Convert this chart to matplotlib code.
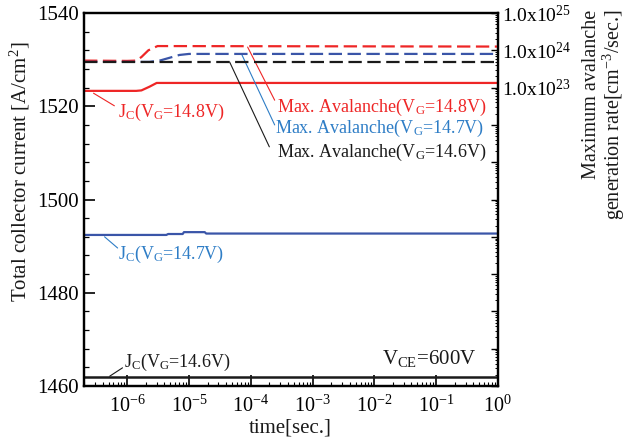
import numpy as np
import matplotlib
matplotlib.use("Agg")
import matplotlib.pyplot as plt
from matplotlib.ticker import FixedLocator, LogLocator, NullFormatter, FuncFormatter, MultipleLocator

plt.rcParams["font.family"] = ["Liberation Serif", "DejaVu Serif"]
plt.rcParams["mathtext.fontset"] = "custom"
plt.rcParams["mathtext.rm"] = "Liberation Serif"
plt.rcParams["mathtext.it"] = "Liberation Serif:italic"

# 集電極電流 (A/cm2)
t_jc148 = [2e-7, 1.4e-6, 1.7e-6, 2.3e-6, 3.0e-6, 1.0]
jc148 = [1523.3, 1523.3, 1523.4, 1524.2, 1525.0, 1525.0]

t_jc147 = [2e-7, 4.3e-6, 4.6e-6, 7.9e-6, 8.3e-6, 1.8e-5, 1.9e-5, 1.0]
jc147 = [1492.4, 1492.4, 1492.6, 1492.6, 1493.0, 1493.0, 1492.7, 1492.7]

t_jc146 = [2e-7, 1.0]
jc146 = [1462.0, 1462.0]

# 最大累增產生率 (cm-3/s)
t_av148 = [2e-7, 1.0e-6, 1.4e-6, 1.7e-6, 2.2e-6, 3.1e-6, 1.0]
av148 = [5.3e23, 5.2e23, 5.3e23, 6.6e23, 1.0e24, 1.3e24, 1.26e24]

t_av147 = [2e-7, 2.3e-6, 3.5e-6, 7.0e-6, 1.0e-5, 1.0]
av147 = [4.9e23, 4.9e23, 5.4e23, 7.5e23, 8.0e23, 8.0e23]

t_av146 = [2e-7, 1.0]
av146 = [4.9e23, 4.9e23]

red = "#ee2626"
blue_line = "#3a55a8"
blue_txt = "#2e7dc6"
black = "#1a1a1a"

fig = plt.figure(figsize=(6.27, 4.38), dpi=100)
ax = fig.add_axes([0.134, 0.1187, 0.660, 0.8516])
ax2 = ax.twinx()

# 左軸：電流
ax.plot(t_jc148, jc148, color=red, lw=1.6)
ax.plot(t_jc147, jc147, color=blue_line, lw=1.6)
ax.plot(t_jc146, jc146, color=black, lw=1.8)

ax.set_xscale("log")
ax.set_xlim(2e-7, 1.0)
ax.set_ylim(1460, 1540)
ax.yaxis.set_major_locator(MultipleLocator(20))
ax.yaxis.set_minor_locator(MultipleLocator(4))
ax.xaxis.set_major_locator(FixedLocator([1e-6, 1e-5, 1e-4, 1e-3, 1e-2, 1e-1, 1e0]))
ax.xaxis.set_minor_locator(LogLocator(base=10, subs=np.arange(2, 10), numticks=20))
ax.xaxis.set_minor_formatter(NullFormatter())
ax.xaxis.set_major_formatter(FuncFormatter(lambda v, p: r"10$^{%d}$" % round(np.log10(v))))

ax.tick_params(axis="both", which="major", direction="in", length=8, width=1.2, labelsize=15)
ax.tick_params(axis="y", which="minor", direction="in", length=3.5, width=0.9)
ax.tick_params(axis="x", which="minor", direction="in", length=2.8, width=0.8)
ax.tick_params(axis="x", which="major", pad=7, labelsize=14.5)
ax.tick_params(axis="y", which="major", pad=4)

# 右軸：累增產生率 (log)
ax2.plot(t_av148, av148, color=red, lw=1.6, dashes=(6, 2.5))
ax2.plot(t_av147, av147, color=blue_line, lw=1.6, dashes=(6, 2.5))
ax2.plot(t_av146, av146, color=black, lw=1.6, dashes=(6, 2.5))
ax2.set_yscale("log")
ax2.set_ylim(1e15, 1e25)
ax2.yaxis.set_major_locator(FixedLocator([10.0 ** k for k in range(15, 26)]))
ax2.yaxis.set_major_formatter(FuncFormatter(
    lambda v, p: r"1.0x10$^{%d}$" % round(np.log10(v)) if v >= 1e23 * 0.99 else ""))
ax2.yaxis.set_minor_locator(LogLocator(base=10, subs=np.arange(2, 10), numticks=20))
ax2.yaxis.set_minor_formatter(NullFormatter())
ax2.tick_params(axis="y", which="major", direction="in", length=5, width=1.0, labelsize=14, pad=3)
ax2.tick_params(axis="y", which="minor", direction="in", length=2.5, width=0.7)

for a in (ax, ax2):
    for s in a.spines.values():
        s.set_linewidth(1.6)

# 標註
def note(txt, xy, xytext, tpos, color, line_color=None):
    ax.annotate("", xy=xy, xytext=xytext,
                arrowprops=dict(arrowstyle="-", color=line_color or color, lw=0.8,
                                shrinkA=0, shrinkB=0))
    ax.text(tpos[0], tpos[1], txt, color=color, fontsize=13, ha="left", va="baseline")

note(r"J$_\mathrm{C}$(V$_\mathrm{G}$=14.8V)", (2.85e-7, 1522.8), (6.2e-7, 1520.1), (7.0e-7, 1517.7), red)
note(r"Max. Avalanche(V$_\mathrm{G}$=14.8V)", (8.9e-5, 1532.7), (2.44e-4, 1521.3), (2.64e-4, 1518.8), red)
note(r"Max. Avalanche(V$_\mathrm{G}$=14.7V)", (7.1e-5, 1531.2), (2.44e-4, 1516.0), (2.44e-4, 1514.3), blue_txt)
note(r"Max. Avalanche(V$_\mathrm{G}$=14.6V)", (4.55e-5, 1529.5), (2.0e-4, 1511.3), (2.64e-4, 1509.1), black)
note(r"J$_\mathrm{C}$(V$_\mathrm{G}$=14.7V)", (4.3e-7, 1492.0), (7.0e-7, 1489.6), (7.0e-7, 1487.2), blue_txt)
note(r"J$_\mathrm{C}$(V$_\mathrm{G}$=14.6V)", (5.2e-7, 1462.1), (8.4e-7, 1463.9), (9.0e-7, 1464.1), black)

ax.text(1.33e-2, 1464.7, r"V$_\mathrm{CE}$=600V", fontsize=15, color=black, ha="left", va="baseline")

# 軸標題
fig.text(0.032, 0.607, r"Total collector current [A/cm$^2$]", rotation=90,
         fontsize=15, ha="center", va="center", color=black)
fig.text(0.964, 0.978, "Maximum avalanche\ngeneration rate[cm$^{-3}$/sec.]", rotation=90,
         fontsize=14.5, ha="center", va="top", multialignment="right", linespacing=0.95, color=black)
fig.text(0.463, 0.012, "time[sec.]", fontsize=15, ha="center", va="baseline", color=black)

fig.savefig("out.png", dpi=100)
